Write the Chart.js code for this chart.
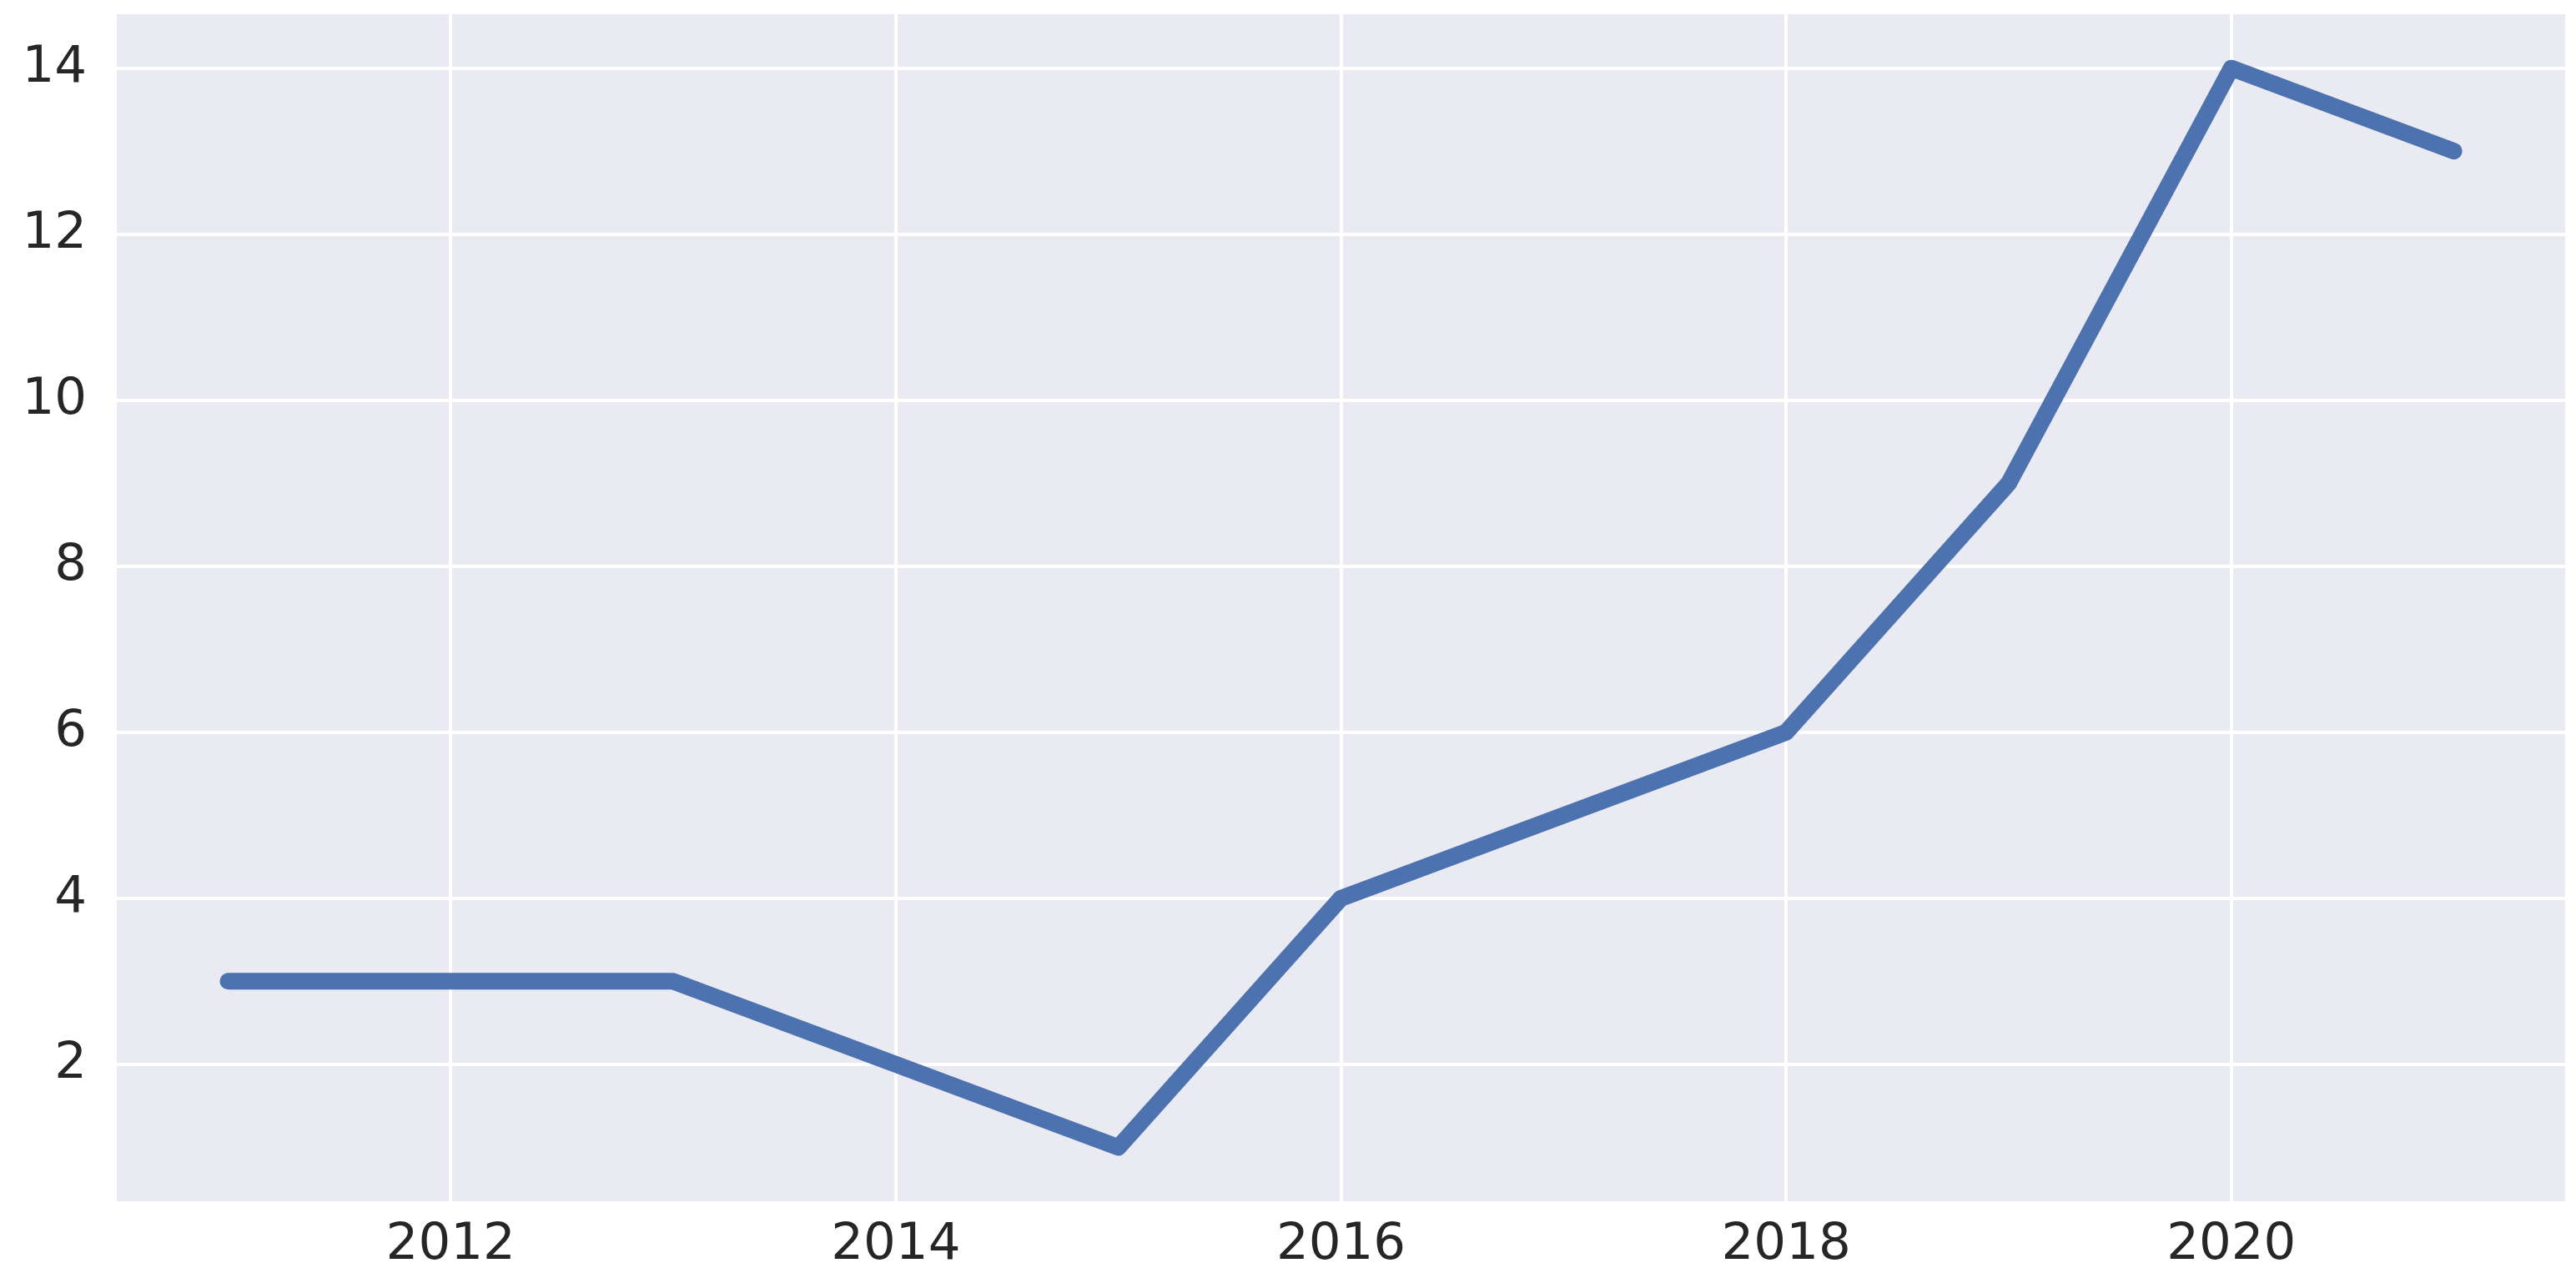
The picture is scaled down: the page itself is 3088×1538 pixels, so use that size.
<!DOCTYPE html>
<html>
<head>
<meta charset="utf-8">
<script src="https://cdn.jsdelivr.net/npm/chart.js@4"></script>
<style>
  html, body { margin: 0; padding: 0; background: #ffffff; }
  #wrap { width: 3088px; height: 1538px; }
</style>
</head>
<body>
<div id="wrap"><canvas id="lineChart" width="3088" height="1538"></canvas></div>
<script>
// данные графика
const years = [2011, 2012, 2013, 2014, 2015, 2016, 2017, 2018, 2019, 2020, 2021];
const values = [3, 3, 3, 2, 1, 4, 5, 6, 9, 14, 13];
const xTicks = [2012, 2014, 2016, 2018, 2020];
const yTicks = [2, 4, 6, 8, 10, 12, 14];

const ctx = document.getElementById('lineChart').getContext('2d');

// фон области графика как в seaborn darkgrid
const plotBg = {
  id: 'plotBg',
  beforeDraw(chart) {
    const a = chart.chartArea;
    const c = chart.ctx;
    c.save();
    c.fillStyle = '#EAEAF2';
    c.fillRect(a.left, a.top, a.right - a.left, a.bottom - a.top);
    c.restore();
  }
};

const chart = new Chart(ctx, {
  type: 'line',
  data: {
    datasets: [{
      data: years.map((y, i) => ({ x: y, y: values[i] })),
      borderColor: '#4C72B0',
      borderWidth: 20,
      borderCapStyle: 'round',
      borderJoinStyle: 'round',
      pointRadius: 0,
      tension: 0,
      fill: false
    }]
  },
  options: {
    responsive: false,
    animation: false,
    layout: { padding: { top: 17, right: 13, left: 0, bottom: 0 } },
    plugins: { legend: { display: false }, tooltip: { enabled: false } },
    scales: {
      x: {
        type: 'linear',
        min: 2010.5,
        max: 2021.5,
        afterBuildTicks: (axis) => { axis.ticks = xTicks.map(v => ({ value: v })); },
        // убираем авто-отступы, чтобы область графика совпала
        afterFit: (axis) => { axis.height = 98; axis.paddingLeft = 0; axis.paddingRight = 0; },
        grid: { color: '#ffffff', lineWidth: 4, drawTicks: false },
        border: { display: false },
        ticks: {
          color: '#262626',
          padding: 17,
          maxRotation: 0,
          font: { family: 'DejaVu Sans', size: 61 },
          callback: (v) => String(v)
        }
      },
      y: {
        min: 0.35,
        max: 14.65,
        afterBuildTicks: (axis) => { axis.ticks = yTicks.map(v => ({ value: v })); },
        afterFit: (axis) => { axis.width = 140; axis.paddingTop = 0; axis.paddingBottom = 0; },
        grid: { color: '#ffffff', lineWidth: 4, drawTicks: false },
        border: { display: false },
        ticks: {
          color: '#262626',
          padding: 36,
          font: { family: 'DejaVu Sans', size: 61 }
        }
      }
    }
  },
  plugins: [plotBg]
});
</script>
</body>
</html>
